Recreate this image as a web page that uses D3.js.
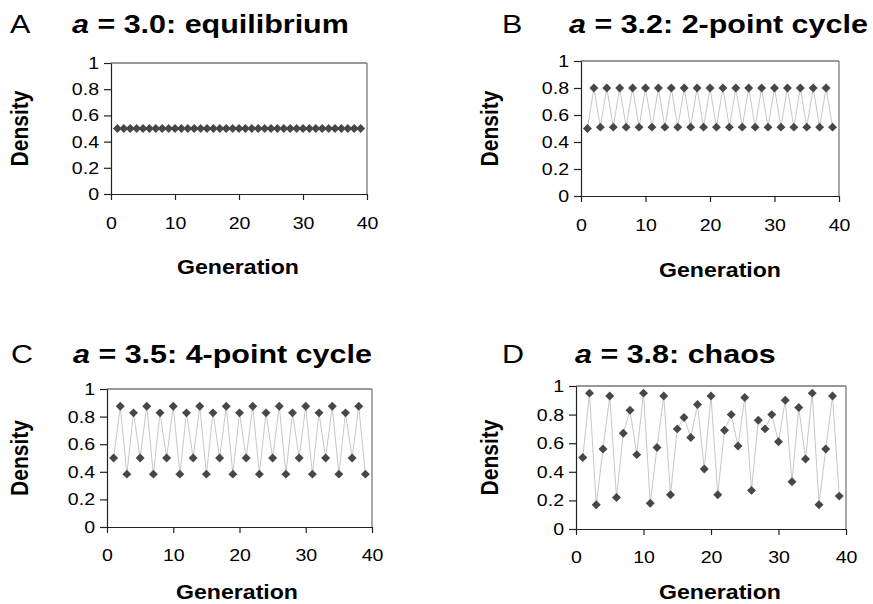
<!DOCTYPE html>
<html>
<head>
<meta charset="utf-8">
<script src="https://cdn.jsdelivr.net/npm/d3@7"></script>
<style>
  body { margin: 0; background: #fff; }
  svg { display: block; }
  text { font-family: "Liberation Sans", Arial, Helvetica, sans-serif; fill: #000; }
</style>
</head>
<body>
<svg id="chart" width="873" height="604"></svg>
<script>
// generations 1..39 on the x axis
var generation = [1,2,3,4,5,6,7,8,9,10,11,12,13,14,15,16,17,18,19,20,
                  21,22,23,24,25,26,27,28,29,30,31,32,33,34,35,36,37,38,39];

// density
var densityA = [0.5,0.5,0.5,0.5,0.5,0.5,0.5,0.5,0.5,0.5,0.5,0.5,0.5,0.5,0.5,0.5,0.5,0.5,0.5,0.5,
                0.5,0.5,0.5,0.5,0.5,0.5,0.5,0.5,0.5,0.5,0.5,0.5,0.5,0.5,0.5,0.5,0.5,0.5,0.5];
var densityB = [0.5,0.8,0.51,0.8,0.51,0.8,0.51,0.8,0.51,0.8,0.51,0.8,0.51,0.8,0.51,0.8,0.51,0.8,0.51,0.8,
                0.51,0.8,0.51,0.8,0.51,0.8,0.51,0.8,0.51,0.8,0.51,0.8,0.51,0.8,0.51,0.8,0.51,0.8,0.51];
var densityC = [0.5,0.875,0.383,0.827,0.5,0.875,0.383,0.827,0.5,0.875,0.383,0.827,0.5,0.875,0.383,0.827,
                0.5,0.875,0.383,0.827,0.5,0.875,0.383,0.827,0.5,0.875,0.383,0.827,0.5,0.875,0.383,0.827,
                0.5,0.875,0.383,0.827,0.5,0.875,0.383];
var densityD = [0.5,0.95,0.17,0.56,0.93,0.22,0.67,0.83,0.52,0.95,0.18,0.57,0.93,0.24,0.7,0.78,0.64,0.87,0.42,0.93,
                0.24,0.69,0.8,0.58,0.92,0.27,0.76,0.7,0.8,0.61,0.9,0.33,0.85,0.49,0.95,0.17,0.56,0.93,0.23];

var xTicks = [0, 10, 20, 30, 40];
var yTicks = [0, 0.2, 0.4, 0.6, 0.8, 1];

// the picture is stretched sideways a little, so the text is too
var SX = 1.15;
var SX_AXIS = 1.1;

var panels = [
  {letter: 'A', rest: ' = 3.0: equilibrium', values: densityA,
   left: 111, right: 367, top: 63, bottom: 194,
   letterX: 10, titleX: 72, titleY: 33, densX: 28, tickY: 229, genX: 238, genY: 274},
  {letter: 'B', rest: ' = 3.2: 2-point cycle', values: densityB,
   left: 581, right: 839, top: 61, bottom: 196,
   letterX: 502, titleX: 569, titleY: 33, densX: 498, tickY: 231, genX: 720, genY: 277},
  {letter: 'C', rest: ' = 3.5: 4-point cycle', values: densityC,
   left: 107, right: 372, top: 389, bottom: 527,
   letterX: 11, titleX: 73, titleY: 363, densX: 28, tickY: 561, genX: 237, genY: 599},
  {letter: 'D', rest: ' = 3.8: chaos', values: densityD,
   left: 576, right: 846, top: 386, bottom: 529,
   letterX: 502, titleX: 575, titleY: 363, densX: 498, tickY: 563, genX: 720, genY: 599}
];

var svg = d3.select('#chart');

panels.forEach(function(p) {
  var x = d3.scaleLinear().domain([0, 40]).range([p.left, p.right]);
  var y = d3.scaleLinear().domain([0, 1]).range([p.bottom, p.top]);
  var g = svg.append('g');

  // panel letter + title
  g.append('text')
    .attr('transform', 'translate(' + p.letterX + ',' + p.titleY + ') scale(' + SX + ',1)')
    .style('font-size', '26.5px')
    .text(p.letter);
  var title = g.append('text')
    .attr('transform', 'translate(' + p.titleX + ',' + p.titleY + ') scale(' + SX + ',1)')
    .style('font-size', '26.5px')
    .style('font-weight', 'bold');
  title.append('tspan').style('font-style', 'italic').text('a');
  title.append('tspan').text(p.rest);

  // plot frame: top dark, right grey
  g.append('line')
    .attr('x1', p.left).attr('x2', p.right)
    .attr('y1', p.top).attr('y2', p.top)
    .attr('stroke', '#333').attr('stroke-width', 1.2);
  g.append('line')
    .attr('x1', p.right).attr('x2', p.right)
    .attr('y1', p.top).attr('y2', p.bottom)
    .attr('stroke', '#8c8c8c').attr('stroke-width', 1.5);

  // y axis
  var yAxis = g.append('g')
    .attr('transform', 'translate(' + p.left + ',0)')
    .call(d3.axisLeft(y).tickValues(yTicks).tickSize(7).tickSizeOuter(0)
      .tickFormat(function(d) { return d3.format('')(d); }));
  yAxis.selectAll('text')
    .style('font-size', '17px')
    .attr('x', -12 / SX)
    .attr('transform', 'scale(' + SX + ',1)');

  // x axis
  var xAxis = g.append('g')
    .attr('transform', 'translate(0,' + p.bottom + ')')
    .call(d3.axisBottom(x).tickValues(xTicks).tickSize(6).tickSizeOuter(0));
  xAxis.selectAll('text')
    .style('font-size', '17px')
    .attr('y', p.tickY - p.bottom)
    .attr('dy', 0)
    .attr('transform', 'scale(' + SX + ',1)');

  [yAxis, xAxis].forEach(function(a) {
    a.selectAll('.domain, .tick line').attr('stroke', '#222').attr('stroke-width', 1.2);
    a.attr('font-family', null).attr('font-size', null);
  });

  // axis titles
  g.append('text')
    .attr('transform', 'translate(' + p.densX + ',' + ((p.top + p.bottom) / 2) + ') scale(' + SX_AXIS + ',1) rotate(-90)')
    .attr('text-anchor', 'middle')
    .style('font-size', '21px')
    .style('font-weight', 'bold')
    .text('Density');
  g.append('text')
    .attr('transform', 'translate(' + p.genX + ',' + p.genY + ') scale(' + SX_AXIS + ',1)')
    .attr('text-anchor', 'middle')
    .style('font-size', '21px')
    .style('font-weight', 'bold')
    .text('Generation');

  // connecting line
  var line = d3.line()
    .x(function(d, i) { return x(generation[i]); })
    .y(function(d) { return y(d); });
  g.append('path')
    .datum(p.values)
    .attr('d', line)
    .attr('fill', 'none')
    .attr('stroke', '#c8c8c8')
    .attr('stroke-width', 1);

  // diamond markers
  var diamond = d3.symbol().type(d3.symbolSquare).size(40);
  g.selectAll('.pt')
    .data(p.values)
    .enter()
    .append('path')
      .attr('class', 'pt')
      .attr('d', diamond)
      .attr('transform', function(d, i) {
        return 'translate(' + x(generation[i]) + ',' + y(d) + ') rotate(45)';
      })
      .attr('fill', '#474747');
});
</script>
</body>
</html>
